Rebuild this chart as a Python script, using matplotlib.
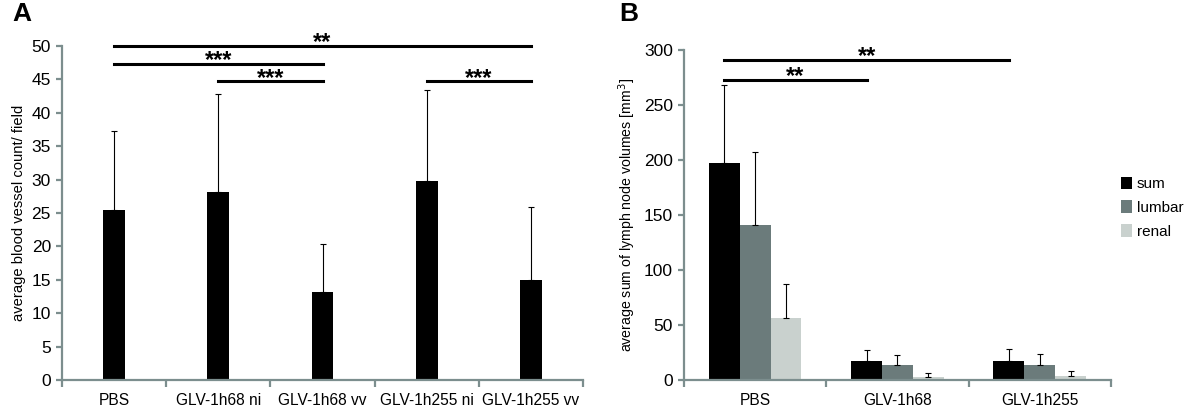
import numpy as np
import matplotlib
matplotlib.use("Agg")
import matplotlib.pyplot as plt

plt.rcParams["font.family"] = ["Liberation Sans", "DejaVu Sans"]

# ---------------------------------------------------------------------------
# Data
# ---------------------------------------------------------------------------

a_groups = ["PBS", "GLV-1h68 ni", "GLV-1h68 vv", "GLV-1h255 ni", "GLV-1h255 vv"]
a_means = [25.5, 28.1, 13.2, 29.8, 15.0]
a_err = [11.8, 14.7, 7.2, 13.6, 10.9]

# (start index, end index, height, label)
a_sig = [(0, 4, 50.0, "**"), (0, 2, 47.3, "***"), (1, 2, 44.7, "***"), (3, 4, 44.7, "***")]

b_groups = ["PBS", "GLV-1h68", "GLV-1h255"]
b_series = ["sum", "lumbar", "renal"]
b_means = {
    "sum": [197, 17, 17.5],
    "lumbar": [141, 13.5, 13.5],
    "renal": [56, 2.5, 3.5],
}
b_err = {
    "sum": [71, 10, 11],
    "lumbar": [66, 9.5, 10],
    "renal": [31, 4, 4.5],
}
b_sig = [(0, 2, 291, "**"), (0, 1, 273, "**")]

b_colors = {"sum": "#000000", "lumbar": "#6b7b7b", "renal": "#c9d1ce"}
spine_col = "#7c8e8e"

# ---------------------------------------------------------------------------
# Figure
# ---------------------------------------------------------------------------

fig = plt.figure(figsize=(12, 4.16), dpi=100)
ax_a = fig.add_axes([0.0517, 0.0865, 0.4341, 0.8030])
ax_b = fig.add_axes([0.5700, 0.0865, 0.3558, 0.7933])


def style_axes(ax, n):
    for s in ["top", "right"]:
        ax.spines[s].set_visible(False)
    for s in ["left", "bottom"]:
        ax.spines[s].set_color(spine_col)
        ax.spines[s].set_linewidth(1.6)
    ax.set_xlim(-0.5, n - 0.5)
    ax.set_xticks(np.arange(n + 1) - 0.5)
    ax.set_xticklabels([])
    ax.tick_params(axis="x", which="major", direction="out", length=5,
                   width=1.6, color=spine_col)
    ax.tick_params(axis="y", direction="out", length=4, width=1.6,
                   color=spine_col, labelsize=12.5, pad=4)


def sig_bar(ax, x0, x1, h, lab):
    # asterisk glyph sits ~0.32 em above baseline, so pull the baseline
    # below the line to leave a small gap like the original
    ax.plot([x0, x1], [h, h], color="black", lw=2.2, clip_on=False)
    ax.annotate(lab, xy=((x0 + x1) / 2, h), xytext=(0, -2.5),
                textcoords="offset points", ha="center", va="baseline",
                fontsize=17, fontweight="bold", annotation_clip=False)


# Panel A
xa = np.arange(len(a_groups))
style_axes(ax_a, len(a_groups))
ax_a.bar(xa, a_means, width=0.21, color="black", zorder=2)
ax_a.errorbar(xa, a_means, yerr=[np.zeros(len(a_err)), a_err], fmt="none",
              ecolor="black", elinewidth=0.8, capsize=2, capthick=0.8)
ax_a.set_ylim(0, 50)
ax_a.set_yticks(range(0, 51, 5))
ax_a.set_xticks(xa, minor=True)
ax_a.set_xticklabels(a_groups, minor=True)
ax_a.tick_params(axis="x", which="minor", length=0, labelsize=11.2, pad=9)
ax_a.set_ylabel("average blood vessel count/ field", fontsize=10.6, labelpad=4)

for i, j, h, lab in a_sig:
    sig_bar(ax_a, xa[i], xa[j], h, lab)

# Panel B
xb = np.arange(len(b_groups))
style_axes(ax_b, len(b_groups))
w = 0.217
for k, name in enumerate(b_series):
    pos = xb + (k - 1) * w
    ax_b.bar(pos, b_means[name], width=w, color=b_colors[name], label=name, zorder=2)
    ax_b.errorbar(pos, b_means[name],
                  yerr=[np.zeros(len(b_groups)), b_err[name]], fmt="none",
                  ecolor="black", elinewidth=0.8, capsize=2, capthick=0.8)
ax_b.set_ylim(0, 300)
ax_b.set_yticks(range(0, 301, 50))
ax_b.set_xticks(xb, minor=True)
ax_b.set_xticklabels(b_groups, minor=True)
ax_b.tick_params(axis="x", which="minor", length=0, labelsize=11.2, pad=9)
ax_b.set_ylabel("average sum of lymph node volumes [mm$^3$]", fontsize=10.2, labelpad=4)

for i, j, h, lab in b_sig:
    sig_bar(ax_b, xb[i] - w, xb[j] - w, h, lab)

ax_b.legend(loc="upper left", bbox_to_anchor=(1.01, 0.635), frameon=False,
            fontsize=11, handlelength=0.7, handleheight=0.9,
            handletextpad=0.3, labelspacing=0.6, borderaxespad=0)

fig.text(0.010, 0.995, "A", fontsize=19, fontweight="bold", va="top", ha="left")
fig.text(0.516, 0.995, "B", fontsize=19, fontweight="bold", va="top", ha="left")

fig.savefig("out.png", dpi=100)
